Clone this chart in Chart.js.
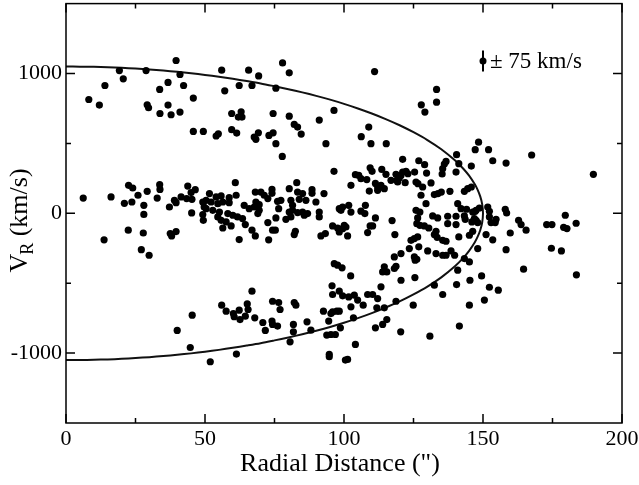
<!DOCTYPE html>
<html><head><meta charset="utf-8">
<script src="https://cdn.jsdelivr.net/npm/chart.js@4"></script>
<style>html,body{margin:0;padding:0;background:#fff}#wrap{width:639px;height:485px}</style>
</head><body><div id="wrap"><canvas id="c" width="639" height="485"></canvas></div>
<script>
// axis ticks
const xTicks=[0,50,100,150,200];
const xMinor=[25,75,125,175];
const yTicks=[-1000,0,1000];
const yMinor=[-500,500];

// high-velocity group (V > 400)
const highR=[39.6,19.2,28.8,41,20.6,14,36.7,42.3,33.7,8.2,12,45.8,29.2,29.7,36.7,33.8,37.8,41,45.8,49.4,
77.9,56,65.7,69.3,80.3,57.1,62.3,66.9,75.5,96.4,59.6,63,62,63.3,74.5,80.3,82.1,83.3,91.1,54,54.8,59.6,61.4,67.7,68.3,69.2,73,74.5,75.5,84.6,93.5,77.8,
111,133.3,133.3,127.8,129.1,108.9,106.2,109.7,115.2,148.4,147.2,140.5,152,167.5];
const highV=[1093,1021,1021,993,962,914,936,914,886,814,774,824,776,755,774,714,705,724,586,586,
1076,1024,1024,983,1005,876,914,914,895,736,714,726,688,688,714,695,636,617,667,553,569,598,574,545,529,576,557,576,498,567,498,407,
1014,886,795,776,724,617,548,498,498,509,455,419,455,417];

// central group (|V| < 400)
const midR=[121.1,126.9,129,136.7,136.1,141.3,145.8,135.5,135.3,140.3,129.7,125.4,121.1,122.3,123,118.7,120.5,119.9,119,116.9,113.6,115.1,109.4,110.1,104.1,105.3,106.1,108.2,102.5,111.3,112.1,113.3,114.5,109.1,112.1,119.3,122,125.9,126.6,128.3,131.3,127.7,132.5,133.8,135,138.1,143.3,144.5,145.8,129.5,101.7,107.7,106.1,107.5,102.5,125.9,127.3,140.9,142.1,144.1,147.2,148.7,
153.5,158.3,189.7,151.7,152.3,158,158.5,179.6,152.3,152.9,154.7,154.4,162.8,163.7,165.5,159.8,153.5,151.1,158.3,172.9,174.8,179,180.2,183.5,174.6,178.2,
111.3,110.3,109.4,100.7,101.3,108.5,117.3,118.3,126.5,126.2,127.3,128.9,130.5,131.9,133.7,132.5,133.1,137.3,140.3,137.3,140.3,143.3,143.6,146.3,147.5,146.9,146,147.5,148.1,146.3,145.1,141.3,135.5,136.7,133.5,124.1,125.3,126.5,126.9,123.5,130.1,133.1,135.5,136.7,138.5,139.8,148.1,145.1,143.3,120.5,118.1,125.3,126.2,125.6,114.5,118.1,118.7,
6.2,16.2,22.5,24,33.7,33.8,29.2,25.9,21,23.7,28,32.8,37.2,39,39.6,41.4,43.4,45.3,43.8,46.5,45,49.2,49.7,28,45.2,49.2,49.4,22.4,27.8,13.7,37.5,38,39.6,27.1,29.9,
60.9,83,51.6,54,55.8,58.7,61.2,68.1,70.1,71.3,74.1,74.1,80.3,83.3,85.1,88.5,88.5,92.8,50.4,52.2,54.6,56.4,58.7,64.1,65.9,68.3,69.5,67.7,72.6,76.1,77.3,76.5,80.9,81.5,83.9,86.3,85.1,86.9,89.9,91.1,98.3,99.5,50.4,52.8,55.2,58.2,60,69.5,69,80.3,81.5,
54.6,55.8,57.6,56.4,59.4,61.7,63.5,62.3,64.5,66.9,68.1,72.6,75.5,74.3,75.3,72.9,79.1,80.9,82.5,82.1,83.3,85.7,91.1,91.7,93.3,95.9,97.7,99.5,100.1,98.3,98.9,96.4];
const midV=[386,376,348,371,352,355,338,319,281,295,288,295,295,300,283,279,271,252,236,236,314,279,326,300,276,271,248,241,200,214,188,200,176,159,164,224,219,224,212,188,217,129,134,141,152,157,157,176,188,69,57,57,15,-2,9,21,9,69,33,29,14,38,
376,359,279,45,14,29,2,-14,-26,-66,-43,-66,-50,-81,-121,-141,-190,-152,-260,-81,-81,-100,-109,-71,-250,-269,
-33,-90,-90,-98,-162,-138,-52,-152,-33,-74,-86,-90,-105,-19,-33,-152,-129,-21,-21,-74,-81,-19,-43,9,21,-38,-62,-50,-66,-129,-157,-169,-193,-200,-172,-193,-181,-169,-240,-252,-269,-288,-300,-300,-269,-300,-252,-348,-324,-288,-312,-312,-329,-336,-383,-395,-379,
109,117,200,181,205,171,157,129,71,81,57,109,45,93,76,117,105,100,195,169,148,81,45,-8,3,-9,-50,-121,-141,-190,-145,-162,-131,-260,-300,
219,219,141,117,124,112,129,152,152,129,171,143,176,152,141,169,143,141,93,81,69,81,76,57,33,81,62,45,105,86,93,33,93,57,100,93,9,-2,81,9,33,45,33,21,9,-2,-14,21,-2,9,21,
-26,-50,-62,-105,-90,-26,-38,-188,-81,-121,-162,-66,-33,-121,-121,-190,-43,-26,-129,-152,5,-14,-26,-162,-145,-90,-105,-110,-86,-133,21,300];

// low-velocity group (V < -350)
const lowR=[45.4,40,44.7,51.9,61.3,
96.5,97.7,99.3,66.9,95.7,95.9,98.3,99.5,56,57.6,60.2,60.5,62.3,62.6,64.5,65.2,65.5,67.9,70.8,71.7,74.1,74.3,74.3,76.5,77,76.1,82.1,82.7,81.8,81.8,80.6,86.7,88.1,92.6,94.5,95.9,97.4,98.3,95.3,93.8,95.3,96.9,98.7,94.7,94.7,100.5,
113.9,115.4,120.5,125.5,132.5,135.5,140.5,145.3,149.5,150.5,145.1,141.5,130.9,120.4,124.9,118.7,102.4,113.3,101.7,103.7,104.9,102.5,106.9,108.5,110.3,112.1,111.8,114.5,103.4,115.4,113.9,111.3,104.1,101.3,
140.9,152.3,155.5,164.6,183.6];
const lowV=[-729,-838,-960,-1062,-1007,
-360,-371,-390,-557,-519,-581,-557,-590,-657,-700,-717,-740,-693,-760,-736,-648,-688,-748,-781,-838,-771,-795,-629,-638,-688,-807,-638,-657,-795,-848,-919,-776,-836,-700,-771,-705,-700,-700,-717,-871,-867,-867,-819,-1009,-1026,-1050,
-419,-419,-479,-460,-514,-581,-510,-479,-448,-621,-657,-807,-879,-848,-657,-629,-448,-526,-598,-586,-621,-669,-657,-581,-581,-610,-676,-676,-748,-760,-795,-819,-938,-1045,
-407,-529,-550,-400,-440];

// envelope curve (upper branch); lower branch mirrors it
const curveR=[0,5,10,15,20,25,30,35,40,45,50,55,60,65,70,75,80,85,90,95,100,105,110,115,120,125,130,135,140,143,145,147,148,149,149.7,150];
const curveV=[1050,1049,1048,1045,1041,1035,1029,1021,1012,1002,990,977,962,946,929,909,888,865,840,813,783,750,714,674,630,580,524,458,377,317,269,209,171,121,66,0];

// error-bar key
const keyR=150, keyV=1090, keyErr=75, keyText='\u00b1 75 km/s';

const pts=[];
[[highR,highV],[midR,midV],[lowR,lowV]].forEach(([r,v])=>r.forEach((x,i)=>pts.push({x:x,y:v[i]})));
const curve=[];
curveR.forEach((x,i)=>curve.push({x:x,y:curveV[i]}));
for(let i=curveR.length-2;i>=0;i--) curve.push({x:curveR[i],y:-curveV[i]});

const serif='"Liberation Serif","Times New Roman",serif';

const deco={
  id:'deco',
  afterDraw(chart){
    const ctx=chart.ctx, a=chart.chartArea, xs=chart.scales.x, ys=chart.scales.y;
    ctx.save();
    ctx.strokeStyle='#000'; ctx.lineWidth=1.5;
    ctx.strokeRect(a.left,a.top,a.right-a.left,a.bottom-a.top);
    ctx.beginPath();
    const tx=(vals,len)=>vals.forEach(v=>{const p=xs.getPixelForValue(v);
      ctx.moveTo(p,a.bottom);ctx.lineTo(p,a.bottom-len);ctx.moveTo(p,a.top);ctx.lineTo(p,a.top+len);});
    const ty=(vals,len)=>vals.forEach(v=>{const p=ys.getPixelForValue(v);
      ctx.moveTo(a.left,p);ctx.lineTo(a.left+len,p);ctx.moveTo(a.right,p);ctx.lineTo(a.right-len,p);});
    tx(xTicks,9);tx(xMinor,5);ty(yTicks,9);ty(yMinor,5);
    ctx.stroke();
    // key
    const kx=xs.getPixelForValue(keyR), ky=ys.getPixelForValue(keyV);
    ctx.beginPath();ctx.lineWidth=2;
    ctx.moveTo(kx,ys.getPixelForValue(keyV+keyErr));ctx.lineTo(kx,ys.getPixelForValue(keyV-keyErr));ctx.stroke();
    ctx.beginPath();ctx.fillStyle='#000';ctx.arc(kx,ky,3.5,0,Math.PI*2);ctx.fill();
    ctx.font='23px '+serif;ctx.textAlign='left';ctx.textBaseline='alphabetic';
    ctx.fillText(keyText,kx+7,ky+7);
    // x title
    ctx.textAlign='center';ctx.font='26px '+serif;
    ctx.fillText('Radial Distance (")',(a.left+a.right)/2-4,471);
    // y title
    ctx.translate(27,220);ctx.rotate(-Math.PI/2);
    ctx.font='26px '+serif;
    const w1=ctx.measureText('V').width;
    ctx.font='18px '+serif;const w2=ctx.measureText('R').width;
    ctx.font='26px '+serif;const w3=ctx.measureText(' (km/s)').width;
    let s=-(w1+w2+w3)/2;
    ctx.textAlign='left';
    ctx.fillText('V',s,0);
    ctx.font='18px '+serif;ctx.fillText('R',s+w1-1,6);
    ctx.font='26px '+serif;ctx.fillText(' (km/s)',s+w1+w2-1,0);
    ctx.restore();
  }
};

new Chart(document.getElementById('c'),{
  type:'scatter',
  data:{datasets:[
    {data:pts,pointRadius:3.6,pointHoverRadius:3.6,backgroundColor:'#000',borderWidth:0,pointStyle:'circle',order:1},
    {data:curve,showLine:true,pointRadius:0,borderColor:'#111',borderWidth:2,tension:0.3,fill:false,order:2}
  ]},
  options:{
    responsive:false,animation:false,devicePixelRatio:1,
    layout:{padding:{top:3,right:17,left:0,bottom:0}},
    plugins:{legend:{display:false},tooltip:{enabled:false}},
    scales:{
      x:{type:'linear',min:0,max:200,
        afterBuildTicks:s=>{s.ticks=xTicks.map(v=>({value:v}));},
        afterFit:s=>{s.height=62;s.paddingLeft=0;s.paddingRight=0;},
        ticks:{font:{family:serif,size:22},color:'#000',padding:3,maxRotation:0,autoSkip:false,callback:v=>String(v)},
        grid:{display:false,drawTicks:false},border:{display:false}},
      y:{type:'linear',min:-1500,max:1500,
        afterBuildTicks:s=>{s.ticks=yTicks.map(v=>({value:v}));},
        afterFit:s=>{s.width=66;s.paddingTop=0;s.paddingBottom=0;},
        ticks:{font:{family:serif,size:22},color:'#000',padding:4,autoSkip:false,callback:v=>String(v)},
        grid:{display:false,drawTicks:false},border:{display:false}}
    }
  },
  plugins:[deco]
});
</script></body></html>
